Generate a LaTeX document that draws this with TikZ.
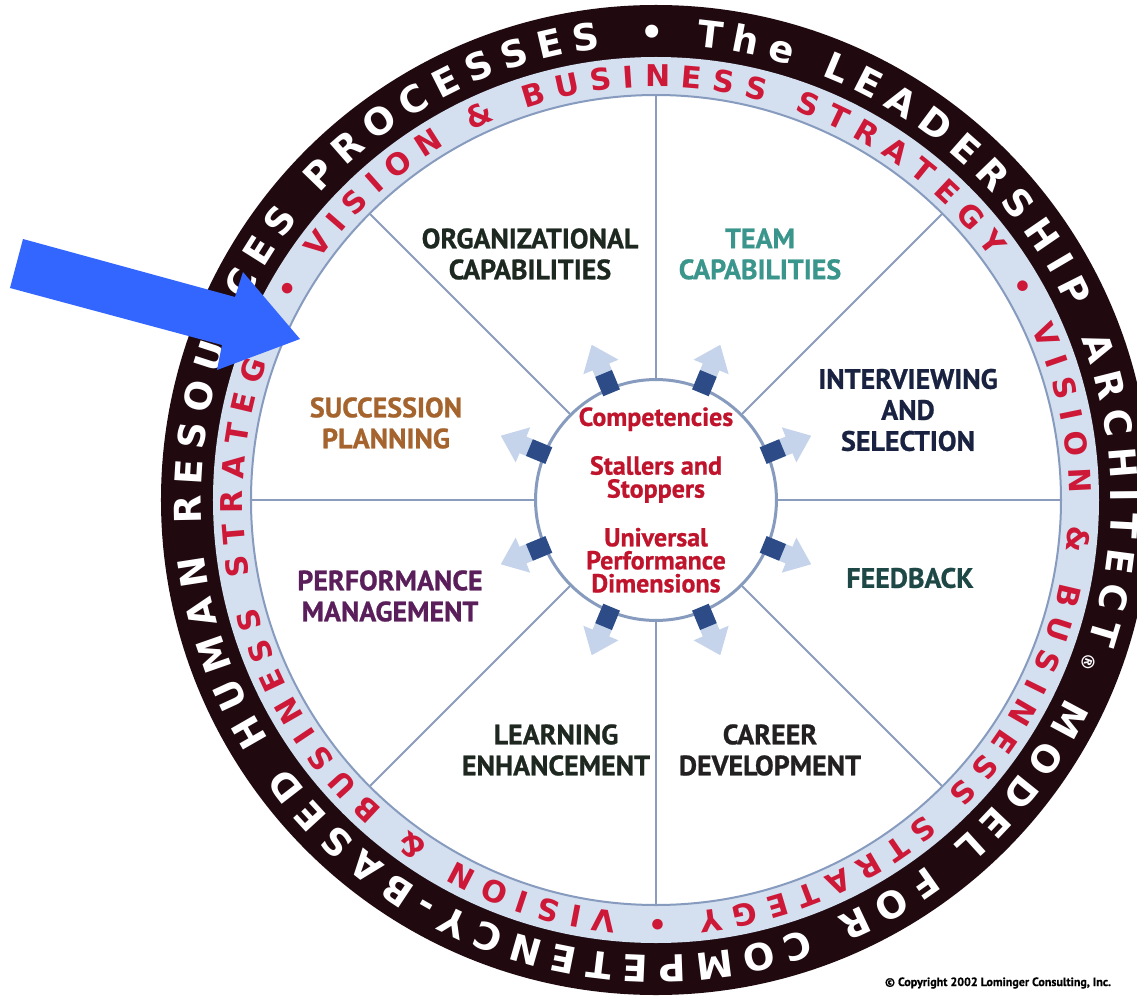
\documentclass[tikz,border=0pt]{standalone}
\usepackage{fontspec}
\usepackage{xcolor}
\usetikzlibrary{decorations.text}
\newfontfamily\ringfont{DejaVu Sans}
\newfontfamily\labelfont[BoldFeatures={FakeBold=0.8}]{PT Sans}
\definecolor{ringdark}{RGB}{32,10,16}
\definecolor{bandblue}{RGB}{212,223,240}
\definecolor{rimblue}{RGB}{135,155,190}
\definecolor{spokeblue}{RGB}{140,156,188}
\definecolor{hubedge}{RGB}{198,212,236}
\definecolor{discedge}{RGB}{222,229,242}
\definecolor{ringred}{RGB}{205,25,55}
\definecolor{hubred}{RGB}{192,20,45}
\definecolor{arrowdark}{RGB}{45,75,135}
\definecolor{arrowlight}{RGB}{188,205,232}
\definecolor{pointerblue}{RGB}{51,102,255}
\definecolor{orgcol}{RGB}{28,40,32}
\definecolor{teamcol}{RGB}{58,150,140}
\definecolor{intcol}{RGB}{25,35,65}
\definecolor{feedcol}{RGB}{30,72,70}
\definecolor{carcol}{RGB}{35,32,34}
\definecolor{learncol}{RGB}{30,40,32}
\definecolor{perfcol}{RGB}{90,30,90}
\definecolor{succcol}{RGB}{165,100,45}
%Shadings for the disc and the hub
\pgfdeclareradialshading{discshade}{\pgfpoint{0bp}{0bp}}{color(0bp)=(white); color(32bp)=(white); color(50bp)=(discedge)}
\pgfdeclareradialshading{hubshade}{\pgfpoint{0bp}{0bp}}{color(0bp)=(white); color(34bp)=(white); color(50bp)=(hubedge)}
\tikzset{
    %Define style for sector labels
    sector/.style={
           font=\labelfont\bfseries\fontsize{28}{31}\selectfont,
           align=center,
           inner sep=0pt},
    %Define style for the hub
    hub/.style={
           circle,
           draw=rimblue, line width=3pt,
           shade, shading=hubshade,
           minimum size=236pt,
           inner sep=0pt,
           text=hubred,
           font=\labelfont\bfseries\fontsize{26}{23}\selectfont,
           align=center},
    % Define line styles
    spoke/.style={draw=spokeblue, line width=2pt},
    rim/.style={draw=rimblue, line width=2pt},
    pointer/.style={fill=pointerblue}
}

\begin{document}
\begin{tikzpicture}[x=1pt,y=1pt]
\clip (-656,-499) rectangle (481,500);
\fill[white] (-656,-499) rectangle (481,500);
% rings and disc
\fill[ringdark] (0,0) circle (495);
\fill[bandblue] (0,0) circle (443);
\shade[shading=discshade] (0,0) circle (405);
\draw[rim] (0,0) circle (405);
\node[hub] (hub) at (0,0) {\raisebox{-4pt}{Competencies}\\[24pt]Stallers and\\Stoppers\\[24pt]Universal\\Performance\\Dimensions};
\foreach \a in {0,45,...,315}
  \draw[spoke] (hub.\a) -- (\a:405);
% small arrows round the hub
\foreach \a in {22.5,67.5,...,337.5}{
  \begin{scope}[rotate=\a]
    \fill[arrowlight, opacity=.85] (119,-9) -- (144,-9) -- (144,-19) -- (168,0) -- (144,19) -- (144,9) -- (119,9) -- cycle;
    \fill[arrowdark] (116,-9) rectangle (137,9);
  \end{scope}
}
% sector labels
\node[sector, text=orgcol] (org) at (-126,246) {ORGANIZATIONAL\\CAPABILITIES};
\node[sector, text=teamcol] (team) at (104,246) {TEAM\\CAPABILITIES};
\node[sector, text=intcol] (interview) at (252,90) {INTERVIEWING\\AND\\SELECTION};
\node[sector, text=feedcol] (feedback) at (254,-78) {FEEDBACK};
\node[sector, text=carcol] (career) at (114,-250) {CAREER\\DEVELOPMENT};
\node[sector, text=learncol] (learning) at (-100,-250) {LEARNING\\ENHANCEMENT};
\node[sector, text=perfcol] (perf) at (-266,-96) {PERFORMANCE\\MANAGEMENT};
\node[sector, text=succcol] (succession) at (-270,77) {SUCCESSION\\PLANNING};
% lettering on the rings
\path[decorate, decoration={text along path, text align={fit to path}, text color=white,
  text={|\ringfont\bfseries\fontsize{37}{37}\selectfont|• The LEADERSHIP ARCHITECT{\fontsize{18}{18}\selectfont ®} MODEL FOR COMPETENCY-BASED HUMAN RESOURCES PROCESSES}}]
  (92:455) arc[start angle=92, end angle=-263, radius=455];
\path[decorate, decoration={text along path, text align={fit to path}, text color=ringred,
  text={|\ringfont\bfseries\fontsize{30}{30}\selectfont|• VISION {\&} BUSINESS STRATEGY • VISION {\&} BUSINESS STRATEGY • VISION {\&} BUSINESS STRATEGY}}]
  (151.5:413) arc[start angle=151.5, end angle=-204, radius=413];
% pointer
\fill[pointer] (-633,261) -- (-421,203) -- (-413,228) -- (-356,161) -- (-439,130) -- (-434,155) -- (-646,212) -- cycle;
\node[font=\labelfont\bfseries\fontsize{12}{12}\selectfont] (copyright) at (342,-483) {© Copyright 2002 Lominger Consulting, Inc.};
\end{tikzpicture}
\end{document}
